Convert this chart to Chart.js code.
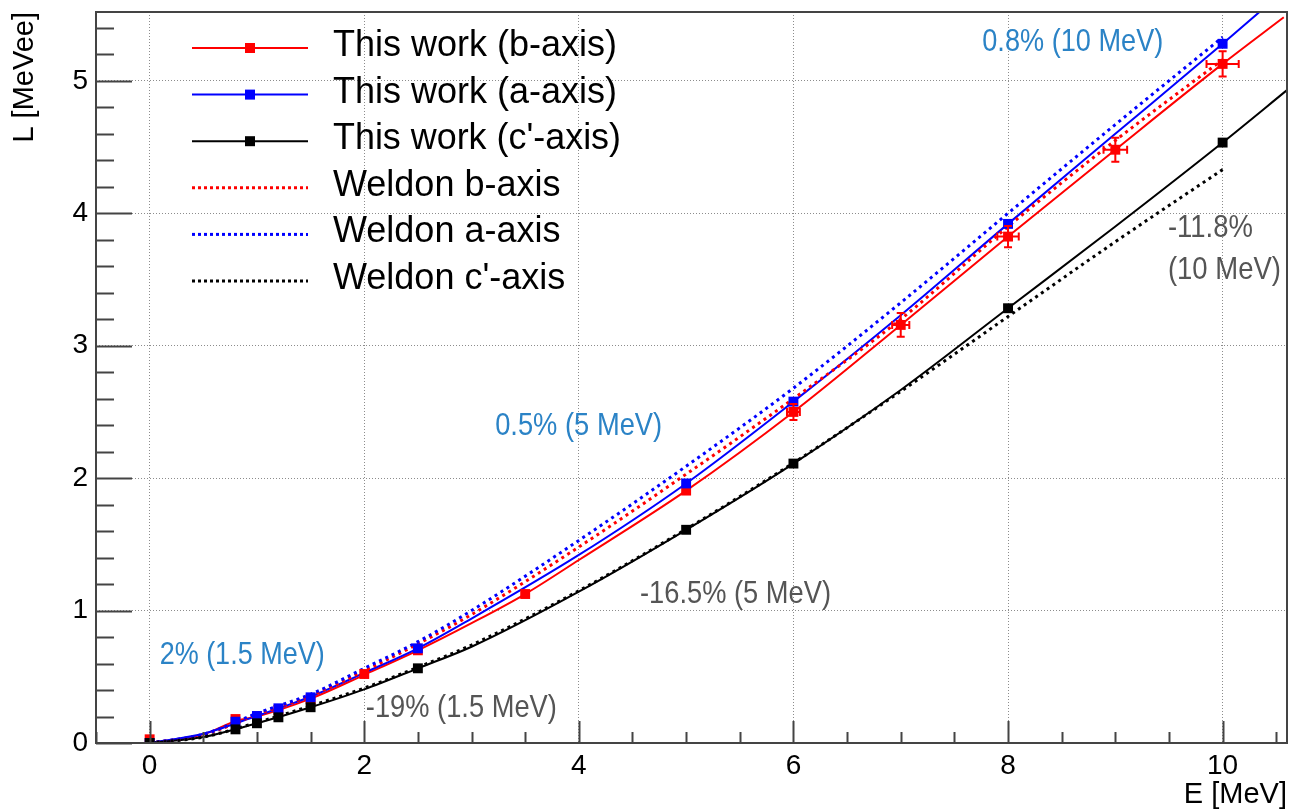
<!DOCTYPE html>
<html>
<head>
<meta charset="utf-8">
<title>L vs E</title>
<script src="https://cdn.jsdelivr.net/npm/chart.js@4.4.0/dist/chart.umd.min.js"></script>
<style>
  html, body { margin: 0; padding: 0; background: #fff; }
  #wrap { width: 1294px; height: 811px; }
</style>
</head>
<body>
<div id="wrap"><canvas id="chart"></canvas></div>
<script>
// ---- data ----
// measured points ("This work")
const workBE = [0, 0.8, 1.0, 1.2, 1.5, 2, 2.5, 3.5, 5, 6, 7, 8, 9, 10];
const workBL = [0.028, 0.181, 0.2, 0.25, 0.33, 0.521, 0.70, 1.125, 1.906, 2.50, 3.157, 3.824, 4.48, 5.128];
const workBErrE = [0, 0, 0, 0, 0, 0.02, 0.03, 0.04, 0.05, 0.06, 0.08, 0.1, 0.11, 0.15];
const workBErrL = [0, 0, 0, 0, 0.01, 0.02, 0.02, 0.03, 0.04, 0.06, 0.09, 0.08, 0.09, 0.095];

const workAE = [0, 0.8, 1.0, 1.2, 1.5, 2.5, 5, 6, 8, 10];
const workAL = [0, 0.161, 0.204, 0.262, 0.345, 0.715, 1.96, 2.578, 3.92, 5.28];

const workCE = [0, 0.8, 1.0, 1.2, 1.5, 2.5, 5, 6, 8, 10];
const workCL = [0, 0.103, 0.149, 0.194, 0.27, 0.564, 1.61, 2.11, 3.283, 4.534];

// fitted curves through the measurements
const fitBE = [0, 0.5, 0.8, 1, 1.5, 2, 2.5, 3, 3.5, 4, 5, 6, 7, 8, 9, 10, 10.57];
const fitBL = [0, 0.065, 0.165, 0.2, 0.335, 0.515, 0.70, 0.905, 1.125, 1.382, 1.906, 2.5, 3.157, 3.824, 4.48, 5.128, 5.48];
const fitAE = [0, 0.5, 1, 1.5, 2, 2.5, 3, 4, 5, 6, 7, 8, 9, 10, 10.6];
const fitAL = [0, 0.07, 0.205, 0.35, 0.53, 0.715, 0.94, 1.42, 1.96, 2.578, 3.23, 3.92, 4.6, 5.28, 5.7];
const fitCE = [0, 0.5, 1, 1.5, 2, 2.5, 3, 4, 5, 6, 7, 8, 9, 10, 10.6];
const fitCL = [0, 0.045, 0.149, 0.27, 0.405, 0.564, 0.727, 1.143, 1.61, 2.11, 2.666, 3.283, 3.9, 4.534, 4.93];

// Weldon curves
const weldonE = [0, 0.5, 1, 1.5, 2, 2.5, 3, 4, 5, 6, 7, 8, 9, 10];
const weldonB = [0, 0.062, 0.215, 0.357, 0.545, 0.748, 0.97, 1.48, 2.03, 2.6, 3.2, 3.9, 4.55, 5.16];
const weldonA = [0, 0.066, 0.224, 0.368, 0.564, 0.765, 1.0, 1.53, 2.09, 2.68, 3.325, 4.0, 4.67, 5.33];
const weldonC = [0, 0.045, 0.155, 0.28, 0.415, 0.572, 0.74, 1.15, 1.615, 2.115, 2.655, 3.22, 3.785, 4.33];

// axes
const xTicks = [0, 2, 4, 6, 8, 10];
const yTicks = [0, 1, 2, 3, 4, 5];
const xMinorStep = 0.5;
const yMinorStep = 0.2;

// ---- styling ----
const FONT = '"Liberation Sans", Arial, Helvetica, sans-serif';
const RED = '#ff0000', BLUE = '#0000ff', BLACK = '#000000';
const NOTE_BLUE = '#2b83c6', NOTE_GRAY = '#555555';
const AXIS = '#444444';

const notes = [
  { text: '0.8% (10 MeV)', e: 7.76, l: 5.295, color: NOTE_BLUE, w: 181 },
  { text: '-11.8%', e: 9.49, l: 3.89, color: NOTE_GRAY, w: 85 },
  { text: '(10 MeV)', e: 9.49, l: 3.57, color: NOTE_GRAY, w: 113 },
  { text: '0.5% (5 MeV)', e: 3.22, l: 2.39, color: NOTE_BLUE, w: 167 },
  { text: '-16.5% (5 MeV)', e: 4.57, l: 1.125, color: NOTE_GRAY, w: 191 },
  { text: '2% (1.5 MeV)', e: 0.093, l: 0.665, color: NOTE_BLUE, w: 165 },
  { text: '-19% (1.5 MeV)', e: 2.015, l: 0.264, color: NOTE_GRAY, w: 191 }
];

const legendItems = [
  { label: 'This work (b-axis)', color: RED, dash: [], marker: true },
  { label: 'This work (a-axis)', color: BLUE, dash: [], marker: true },
  { label: "This work (c'-axis)", color: BLACK, dash: [], marker: true },
  { label: 'Weldon b-axis', color: RED, dash: [3, 3], marker: false },
  { label: 'Weldon a-axis', color: BLUE, dash: [3, 3], marker: false },
  { label: "Weldon c'-axis", color: BLACK, dash: [3, 3], marker: false }
];

const pts = (xs, ys) => xs.map((v, i) => ({ x: v, y: ys[i] }));

function curve(label, xs, ys, color, dashed, order) {
  return {
    label, data: pts(xs, ys), showLine: true, order,
    borderColor: color, borderWidth: dashed ? 3 : 2,
    borderDash: dashed ? [3, 4] : [],
    pointRadius: 0, cubicInterpolationMode: 'monotone'
  };
}

function markers(label, xs, ys, color, order) {
  return {
    label, data: pts(xs, ys), showLine: false, order,
    pointStyle: 'rect', pointRadius: 7, pointHoverRadius: 7,
    backgroundColor: color, borderWidth: 0
  };
}

// ROOT-like frame, inner ticks, error bars, text and legend
const rootStyle = {
  id: 'rootStyle',
  afterDatasetsDraw(chart) {
    const { ctx, scales: { x, y } } = chart;
    ctx.save();
    ctx.strokeStyle = RED;
    ctx.lineWidth = 2;
    workBE.forEach((e, i) => {
      const px = x.getPixelForValue(e), py = y.getPixelForValue(workBL[i]);
      const dx = x.getPixelForValue(e + workBErrE[i]) - px;
      const dy = py - y.getPixelForValue(workBL[i] + workBErrL[i]);
      ctx.beginPath();
      if (dx > 6) {
        ctx.moveTo(px - dx, py); ctx.lineTo(px + dx, py);
        ctx.moveTo(px - dx, py - 4); ctx.lineTo(px - dx, py + 4);
        ctx.moveTo(px + dx, py - 4); ctx.lineTo(px + dx, py + 4);
      }
      if (dy > 6) {
        ctx.moveTo(px, py - dy); ctx.lineTo(px, py + dy);
        ctx.moveTo(px - 4, py - dy); ctx.lineTo(px + 4, py - dy);
        ctx.moveTo(px - 4, py + dy); ctx.lineTo(px + 4, py + dy);
      }
      ctx.stroke();
    });
    ctx.restore();
  },
  afterDraw(chart) {
    const { ctx, chartArea: a, scales: { x, y } } = chart;
    ctx.save();

    // frame
    ctx.strokeStyle = AXIS;
    ctx.lineWidth = 2;
    ctx.strokeRect(a.left, a.top, a.right - a.left, a.bottom - a.top);

    // x ticks (inside, bottom)
    ctx.beginPath();
    for (let k = Math.ceil(x.min / xMinorStep); k * xMinorStep <= x.max; k++) {
      const v = k * xMinorStep;
      const len = xTicks.includes(v) ? 22 : 11;
      const px = Math.round(x.getPixelForValue(v)) + 0.5;
      ctx.moveTo(px, a.bottom); ctx.lineTo(px, a.bottom - len);
    }
    // y ticks (inside, left)
    for (let k = Math.ceil(y.min / yMinorStep); k * yMinorStep <= y.max + 1e-9; k++) {
      const v = +(k * yMinorStep).toFixed(6);
      const len = yTicks.includes(v) ? 36 : 18;
      const py = Math.round(y.getPixelForValue(v)) + 0.5;
      ctx.moveTo(a.left, py); ctx.lineTo(a.left + len, py);
    }
    ctx.stroke();

    // annotations
    ctx.font = '32px ' + FONT;
    ctx.textBaseline = 'middle';
    ctx.textAlign = 'left';
    notes.forEach(n => {
      ctx.fillStyle = n.color;
      ctx.fillText(n.text, x.getPixelForValue(n.e), y.getPixelForValue(n.l), n.w);
    });

    // legend
    const lx0 = a.left + 96, lx1 = a.left + 212, tx = a.left + 237;
    ctx.font = '36px ' + FONT;
    legendItems.forEach((it, i) => {
      const ly = a.top + 36 + i * 46.6;
      ctx.strokeStyle = it.color;
      ctx.lineWidth = it.marker ? 2 : 3;
      ctx.setLineDash(it.dash);
      ctx.beginPath();
      ctx.moveTo(lx0, ly); ctx.lineTo(lx1, ly);
      ctx.stroke();
      ctx.setLineDash([]);
      if (it.marker) {
        ctx.fillStyle = it.color;
        ctx.fillRect((lx0 + lx1) / 2 - 5, ly - 5, 10, 10);
      }
      ctx.fillStyle = '#000';
      ctx.fillText(it.label, tx, ly - 2, 288);
    });
    ctx.restore();
  }
};

Chart.defaults.font.family = FONT;

new Chart(document.getElementById('chart'), {
  type: 'scatter',
  data: {
    datasets: [
      markers("This work (c'-axis)", workCE, workCL, BLACK, 1),
      markers('This work (a-axis)', workAE, workAL, BLUE, 2),
      markers('This work (b-axis)', workBE, workBL, RED, 3),
      curve("Weldon c'-axis", weldonE, weldonC, BLACK, true, 4),
      curve('Weldon a-axis', weldonE, weldonA, BLUE, true, 5),
      curve('Weldon b-axis', weldonE, weldonB, RED, true, 6),
      curve("This work (c'-axis) fit", fitCE, fitCL, BLACK, false, 7),
      curve('This work (a-axis) fit', fitAE, fitAL, BLUE, false, 8),
      curve('This work (b-axis) fit', fitBE, fitBL, RED, false, 9)
    ]
  },
  options: {
    responsive: true,
    maintainAspectRatio: false,
    animation: false,
    devicePixelRatio: 1,
    layout: { padding: { top: 12, right: 0, left: 0, bottom: 0 } },
    plugins: {
      legend: { display: false },
      tooltip: { enabled: false }
    },
    scales: {
      x: {
        type: 'linear',
        min: -0.5,
        max: 10.6,
        afterBuildTicks: scale => { scale.ticks = xTicks.map(v => ({ value: v })); },
        afterFit: scale => {
          scale.height = 68;
          scale.paddingLeft = 0;
          scale.paddingRight = 0;
        },
        grid: { color: '#8c8c8c', lineWidth: 1, drawTicks: false },
        border: { display: false, dash: [1, 2] },
        ticks: { color: '#000', font: { size: 28 }, padding: 6, maxRotation: 0, autoSkip: false },
        title: {
          display: true, text: 'E [MeV]', align: 'end', color: '#000',
          font: { size: 29, lineHeight: 1.1 }, padding: { top: 0, bottom: 0 }
        }
      },
      y: {
        type: 'linear',
        min: 0,
        max: 5.52,
        afterBuildTicks: scale => { scale.ticks = yTicks.map(v => ({ value: v })); },
        afterFit: scale => {
          scale.width = 96;
          scale.paddingTop = 0;
          scale.paddingBottom = 0;
        },
        grid: { color: '#8c8c8c', lineWidth: 1, drawTicks: false },
        border: { display: false, dash: [1, 2] },
        ticks: { color: '#000', font: { size: 28 }, padding: 8 },
        title: {
          display: true, text: 'L [MeVee]', align: 'end', color: '#000',
          font: { size: 29, lineHeight: 1.2 }, padding: { top: 8, bottom: 0 }
        }
      }
    }
  },
  plugins: [rootStyle]
});
</script>
</body>
</html>
